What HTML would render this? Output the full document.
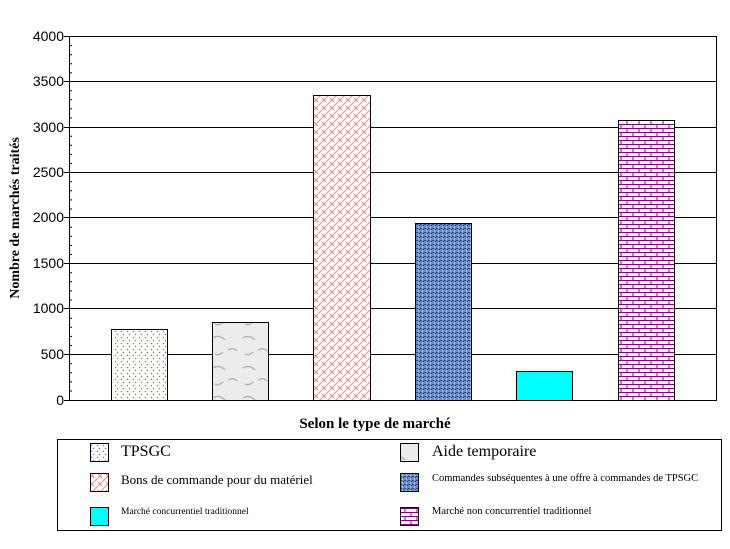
<!DOCTYPE html>
<html><head><meta charset="utf-8"><style>
html,body{margin:0;padding:0;background:#fff;}
svg{display:block;}
text{font-family:"Liberation Serif",serif;}
</style></head><body>
<svg width="730" height="549" viewBox="0 0 730 549" xmlns="http://www.w3.org/2000/svg">
<defs>
<pattern id="p1" width="6" height="6" patternUnits="userSpaceOnUse">
<rect width="6" height="6" fill="#fff"/>
<path d="M1 1l1 1M4 4l-1 1" stroke="#6060ff" stroke-width="1"/>
</pattern>
<pattern id="p2" width="30" height="30" patternUnits="userSpaceOnUse">
<rect width="30" height="30" fill="#ececec"/>
<path d="M3 8q6 -4 12 2M18 20q5 -3 9 1M5 24q4 2 8 -2" stroke="#b4b4b4" stroke-width="1.5" fill="none"/>
</pattern>
<pattern id="p3" width="8" height="8" patternUnits="userSpaceOnUse">
<rect width="8" height="8" fill="#fff"/>
<path d="M0 8L8 0M-2 2L2 -2M6 10L10 6M2 2L6 6" stroke="#ff7a7a" stroke-width="0.9"/>
</pattern>
<pattern id="p4" width="4" height="4" patternUnits="userSpaceOnUse">
<rect width="4" height="4" fill="#6c8cc8"/>
<rect x="0" y="0" width="2" height="1" fill="#2a4a8a"/>
<rect x="2" y="2" width="1" height="2" fill="#a8c0ec"/>
<rect x="3" y="1" width="1" height="1" fill="#24407c"/>
</pattern>
<pattern id="p6" width="12" height="8" patternUnits="userSpaceOnUse">
<rect width="12" height="8" fill="#fff"/>
<path d="M0 0.5H12M0 4.5H12M3 0V4.5M9 4V8" stroke="#800080" stroke-width="1"/>
</pattern>
</defs>
<g stroke="#000" stroke-width="1">
<line x1="69" y1="36.5" x2="716" y2="36.5"/>
<line x1="64" y1="81.5" x2="716" y2="81.5"/>
<line x1="64" y1="127.5" x2="716" y2="127.5"/>
<line x1="64" y1="172.5" x2="716" y2="172.5"/>
<line x1="64" y1="217.5" x2="716" y2="217.5"/>
<line x1="64" y1="263.5" x2="716" y2="263.5"/>
<line x1="64" y1="308.5" x2="716" y2="308.5"/>
<line x1="64" y1="354.5" x2="716" y2="354.5"/>
<line x1="64" y1="400.5" x2="716" y2="400.5"/>
<line x1="64" y1="36.5" x2="69" y2="36.5"/>
<line x1="69.5" y1="36" x2="69.5" y2="401"/>
<line x1="716.5" y1="36" x2="716.5" y2="401"/>
</g>
<g stroke="#000" stroke-width="1">
<path d="M70 45.6h2M70 54.7h2M70 63.8h2M70 72.9h2M70 90.7h2M70 99.8h2M70 108.9h2M70 118h2M70 136.2h2M70 145.3h2M70 154.4h2M70 163.5h2M70 181.7h2M70 190.8h2M70 199.9h2M70 209h2M70 227.2h2M70 236.3h2M70 245.4h2M70 254.5h2M70 272.7h2M70 281.8h2M70 290.9h2M70 300h2M70 318.2h2M70 327.3h2M70 336.4h2M70 345.5h2M70 363.7h2M70 372.8h2M70 381.9h2M70 391h2"/>
</g>
<g font-size="14" text-anchor="end">
<text x="64" y="41" style="font-family:'Liberation Sans',sans-serif">4000</text>
<text x="64" y="86" style="font-family:'Liberation Sans',sans-serif">3500</text>
<text x="64" y="132" style="font-family:'Liberation Sans',sans-serif">3000</text>
<text x="64" y="177" style="font-family:'Liberation Sans',sans-serif">2500</text>
<text x="64" y="222" style="font-family:'Liberation Sans',sans-serif">2000</text>
<text x="64" y="268" style="font-family:'Liberation Sans',sans-serif">1500</text>
<text x="64" y="313" style="font-family:'Liberation Sans',sans-serif">1000</text>
<text x="64" y="359" style="font-family:'Liberation Sans',sans-serif">500</text>
<text x="64" y="405" style="font-family:'Liberation Sans',sans-serif">0</text>
</g>
<text transform="translate(19,218) rotate(-90)" text-anchor="middle" font-size="14" font-weight="bold">Nombre de marchés traités</text>
<g stroke="#000" stroke-width="1">
<rect x="111.5" y="329.5" width="56" height="71" fill="url(#p1)"/>
<rect x="212.5" y="322.5" width="56" height="78" fill="url(#p2)"/>
<rect x="313.5" y="95.5" width="57" height="305" fill="url(#p3)"/>
<rect x="415.5" y="223.5" width="56" height="177" fill="url(#p4)"/>
<rect x="516.5" y="371.5" width="56" height="29" fill="#00ffff"/>
<rect x="618.5" y="120.5" width="56" height="280" fill="url(#p6)"/>
</g>
<text x="375" y="428" text-anchor="middle" font-size="15" font-weight="bold">Selon le type de marché</text>
<rect x="57.5" y="439.5" width="664" height="91" fill="none" stroke="#000"/>
<g stroke="#000">
<rect x="90.5" y="443.5" width="18" height="18" fill="url(#p1)"/>
<rect x="90.5" y="473.5" width="18" height="18" fill="url(#p3)"/>
<rect x="90.5" y="507.5" width="18" height="18" fill="#00ffff"/>
<rect x="400.5" y="443.5" width="18" height="18" fill="url(#p2)"/>
<rect x="400.5" y="473.5" width="18" height="18" fill="url(#p4)"/>
<rect x="400.5" y="507.5" width="18" height="18" fill="url(#p6)"/>
</g>
<g>
<text x="121" y="456" font-size="16">TPSGC</text>
<text x="121" y="484" font-size="13">Bons de commande pour du matériel</text>
<text x="121" y="514" font-size="9.5">Marché concurrentiel traditionnel</text>
<text x="432" y="456" font-size="16">Aide temporaire</text>
<text x="432" y="481" font-size="10.5">Commandes subséquentes à une offre à commandes de TPSGC</text>
<text x="432" y="514" font-size="10.5">Marché non concurrentiel traditionnel</text>
</g>
</svg>
</body></html>
